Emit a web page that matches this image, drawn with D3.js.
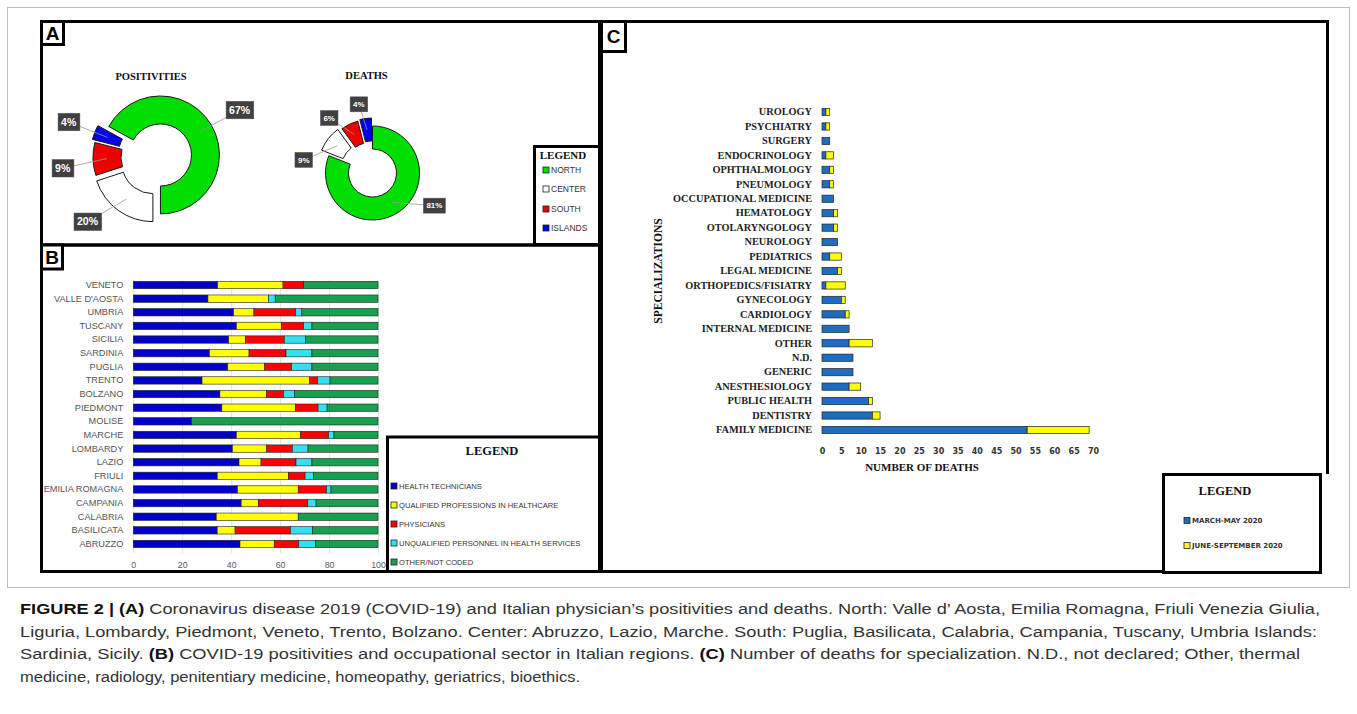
<!DOCTYPE html>
<html><head><meta charset="utf-8">
<script src="https://cdn.jsdelivr.net/npm/d3@7"></script>
<style>body{margin:0;background:#fff}svg{display:block}</style>
</head><body>
<svg id="fig" width="1357" height="714"></svg>
<script>
// ---------- DATA ----------
// Panel A
const regions = ["NORTH", "CENTER", "SOUTH", "ISLANDS"];
const positivities = [67, 20, 9, 4];
const deathsShare = [81, 9, 6, 4];

// Panel B (percent of positivities per occupational sector)
const bRegions = ["VENETO","VALLE D'AOSTA","UMBRIA","TUSCANY","SICILIA","SARDINIA","PUGLIA","TRENTO","BOLZANO","PIEDMONT","MOLISE","MARCHE","LOMBARDY","LAZIO","FRIULI","EMILIA ROMAGNA","CAMPANIA","CALABRIA","BASILICATA","ABRUZZO"];
const sectors = ["HEALTH TECHNICIANS","QUALIFIED PROFESSIONS IN HEALTHCARE","PHYSICIANS","UNQUALIFIED PERSONNEL IN HEALTH SERVICES","OTHER/NOT CODED"];
const healthTechnicians = [34.5,30.5,41.0,42.1,39.0,31.1,38.6,28.1,35.4,36.2,23.8,42.1,40.5,43.2,34.3,42.6,44.1,33.9,34.3,43.6];
const qualifiedProf    = [26.7,24.8, 8.3,18.5, 6.9,16.2,15.1,44.0,19.0,30.0, 0.0,26.3,14.0, 9.0,29.1,24.8, 7.0,33.5, 7.3,14.0];
const physiciansB      = [ 8.4, 0.0,17.0, 9.0,15.8,15.1,11.0, 3.2, 7.0, 9.3, 0.0,11.4,10.5,14.3, 6.8,11.5,20.2, 0.0,22.6,10.0];
const unqualified      = [ 0.0, 2.7, 2.6, 3.4, 8.6,10.6, 8.3, 5.1, 4.5, 3.7, 0.0, 2.2, 6.4, 6.5, 3.5, 1.9, 3.4, 0.0, 9.0, 6.8];
const otherNotCoded    = [30.4,42.0,31.1,27.0,29.7,27.0,27.0,19.6,34.1,20.8,76.2,18.0,28.6,27.0,26.3,19.2,25.3,32.6,26.8,25.6];
const bTicks = [0, 20, 40, 60, 80, 100];

// Panel C (number of deaths)
const specializations = ["UROLOGY","PSYCHIATRY","SURGERY","ENDOCRINOLOGY","OPHTHALMOLOGY","PNEUMOLOGY","OCCUPATIONAL MEDICINE","HEMATOLOGY","OTOLARYNGOLOGY","NEUROLOGY","PEDIATRICS","LEGAL MEDICINE","ORTHOPEDICS/FISIATRY","GYNECOLOGY","CARDIOLOGY","INTERNAL MEDICINE","OTHER","N.D.","GENERIC","ANESTHESIOLOGY","PUBLIC HEALTH","DENTISTRY","FAMILY MEDICINE"];
const marchMay = [1,1,2,1,2,2,3,3,3,4,2,4,1,5,6,7,7,8,8,7,12,13,53];
const juneSep  = [1,1,0,2,1,1,0,1,1,0,3,1,5,1,1,0,6,0,0,3,1,2,16];
const periods = ["MARCH-MAY 2020", "JUNE-SEPTEMBER 2020"];
const cTicks = [0,5,10,15,20,25,30,35,40,45,50,55,60,65,70];

// ---------- STYLE ----------
const regionColors = ["#00dd00", "#ffffff", "#ee0000", "#0000ee"];
const sectorColors = ["#0000c8", "#ffff00", "#ff0000", "#33e0f0", "#17a04f"];
const periodColors = ["#1f6dc2", "#ffff00"];
const serif = "'Liberation Serif', 'Times New Roman', serif";
const sans = "'Liberation Sans', Arial, sans-serif";
const sansBold = "'DejaVu Sans', Verdana, sans-serif";

const svg = d3.select("#fig");

// outer light frame
svg.append("rect").attr("x", 7.5).attr("y", 7.5).attr("width", 1342).attr("height", 580)
  .attr("fill", "none").attr("stroke", "#bdbdbd").attr("stroke-width", 1);

// ---------- PANEL A ----------
const gA = svg.append("g");
function donut(data, cx, cy, R, r, startDeg, offsets, labelR, nudges, fs, title, titleY) {
  const start = startDeg * Math.PI / 180;
  const pie = d3.pie().sort(null).startAngle(start).endAngle(start + 2 * Math.PI);
  const arcs = pie(data);
  const arc = d3.arc().innerRadius(r).outerRadius(R);
  const g = gA.append("g");
  g.append("text").attr("x", cx - 6).attr("y", titleY).attr("text-anchor", "middle")
    .attr("font-family", serif).attr("font-weight", "bold").attr("font-size", 10.5)
    .attr("fill", "#111").text(title);
  arcs.forEach((a, i) => {
    const mid = (a.startAngle + a.endAngle) / 2;
    const dx = offsets[i] * Math.sin(mid), dy = -offsets[i] * Math.cos(mid);
    g.append("path").attr("d", arc(a))
      .attr("transform", `translate(${cx + dx},${cy + dy})`)
      .attr("fill", regionColors[i]).attr("stroke", "#1a1a1a").attr("stroke-width", 1);
  });
  arcs.forEach((a, i) => {
    const mid = (a.startAngle + a.endAngle) / 2;
    const dx = offsets[i] * Math.sin(mid), dy = -offsets[i] * Math.cos(mid);
    const c = arc.centroid(a);
    const la = mid + nudges[i] * Math.PI / 180;
    const lx = cx + labelR * Math.sin(la), ly = cy - labelR * Math.cos(la);
    g.append("line").attr("x1", cx + dx + c[0]).attr("y1", cy + dy + c[1])
      .attr("x2", lx).attr("y2", ly).attr("stroke", "#9a9a9a").attr("stroke-width", 0.8);
    const t = g.append("text").attr("x", lx).attr("y", ly).attr("dy", "0.35em")
      .attr("text-anchor", "middle").attr("font-family", sans).attr("font-weight", "bold")
      .attr("font-size", fs).attr("fill", "#fff").text(data[i] + "%");
    const bb = t.node().getBBox();
    g.insert("rect", () => t.node())
      .attr("x", bb.x - 3).attr("y", ly - fs * 0.5 - 3.5).attr("width", bb.width + 6).attr("height", fs + 7)
      .attr("fill", "#404040").attr("stroke", "#555").attr("stroke-width", 0.5);
  });
}
// Positivities: North placed so that the remaining slices start at 6 o'clock
const posStart = 180 + 360 * (100 - positivities[0]) / 100;
donut(positivities, 157, 157, 59, 31, posStart, [4, 7, 5, 8], 95, [1, 11, -5, 0], 10.5, "POSITIVITIES", 80);
donut(deathsShare, 372.5, 173, 47, 24, 0, [0, 9, 7, 8], 70, [-28, -27, -13, -4], 8, "DEATHS", 79);

// ---------- PANEL B ----------
const gB = svg.append("g");
const xB = d3.scaleLinear().domain([0, 100]).range([133.3, 378]);
const yB = d3.scaleBand().domain(bRegions).range([278.2, 550.8]).paddingInner(0.46).paddingOuter(0.23);
const axB = d3.axisBottom(xB).tickValues(bTicks).tickSize(-(550 - 277)).tickPadding(9);
const axBg = gB.append("g").attr("transform", "translate(0,553)").call(axB);
axBg.select(".domain").remove();
axBg.selectAll(".tick line").attr("stroke", "#d9d9d9").attr("stroke-width", 0.8);
axBg.selectAll(".tick text").attr("font-family", sans).attr("font-size", 8.8).attr("fill", "#595959");
const ayB = d3.axisLeft(yB).tickSize(0).tickPadding(10);
const ayBg = gB.append("g").attr("transform", "translate(133.3,0)").call(ayB);
ayBg.select(".domain").remove();
ayBg.selectAll(".tick text").attr("font-family", sans).attr("font-size", 9.2).attr("fill", "#555");
const bRows = bRegions.map((name, i) => ({
  name, s0: healthTechnicians[i], s1: qualifiedProf[i], s2: physiciansB[i], s3: unqualified[i], s4: otherNotCoded[i]
}));
const stackB = d3.stack().keys(["s0", "s1", "s2", "s3", "s4"])(bRows);
stackB.forEach((layer, k) => {
  gB.append("g").selectAll("rect").data(layer.filter(d => d[1] - d[0] > 0)).join("rect")
    .attr("x", d => xB(d[0])).attr("width", d => xB(d[1]) - xB(d[0]))
    .attr("y", d => yB(d.data.name)).attr("height", yB.bandwidth())
    .attr("fill", sectorColors[k]).attr("stroke", "#222").attr("stroke-width", 0.6);
});

// ---------- PANEL C ----------
const gC = svg.append("g");
const xC = d3.scaleLinear().domain([0, 70]).range([822, 1093]);
const yC = d3.scaleBand().domain(specializations).range([104.8, 437.2]).paddingInner(0.5).paddingOuter(0.25);
const axC = d3.axisBottom(xC).tickValues(cTicks).tickSize(0).tickPadding(0);
const axCg = gC.append("g").attr("transform", "translate(0,448)").call(axC);
axCg.select(".domain").remove();
axCg.selectAll(".tick text").attr("font-family", sansBold).attr("font-weight", "bold")
  .attr("font-size", 8).attr("fill", "#333").attr("dy", "0.71em");
const ayC = d3.axisLeft(yC).tickSize(0).tickPadding(10);
const ayCg = gC.append("g").attr("transform", "translate(822,0)").call(ayC);
ayCg.select(".domain").remove();
ayCg.selectAll(".tick text").attr("font-family", serif).attr("font-weight", "bold")
  .attr("font-size", 10.3).attr("fill", "#222");
const cRows = specializations.map((name, i) => ({ name, a: marchMay[i], b: juneSep[i] }));
const stackC = d3.stack().keys(["a", "b"])(cRows);
stackC.forEach((layer, k) => {
  gC.append("g").selectAll("rect").data(layer.filter(d => d[1] - d[0] > 0)).join("rect")
    .attr("x", d => xC(d[0])).attr("width", d => xC(d[1]) - xC(d[0]))
    .attr("y", d => yC(d.data.name)).attr("height", yC.bandwidth())
    .attr("fill", periodColors[k]).attr("stroke", "#222").attr("stroke-width", 0.7);
});
gC.append("text").attr("x", 922).attr("y", 471).attr("text-anchor", "middle")
  .attr("font-family", serif).attr("font-weight", "bold").attr("font-size", 11).attr("fill", "#111")
  .text("NUMBER OF DEATHS");
gC.append("text").attr("transform", "translate(662,271) rotate(-90)").attr("text-anchor", "middle")
  .attr("font-family", serif).attr("font-weight", "bold").attr("font-size", 11.5).attr("fill", "#111")
  .text("SPECIALIZATIONS");

// ---------- FRAMES ----------
const frame = (x, y, w, h) => svg.append("rect").attr("x", x).attr("y", y).attr("width", w).attr("height", h)
  .attr("fill", "none").attr("stroke", "#000").attr("stroke-width", 3);
frame(41.5, 21.5, 558, 223.5);   // A
frame(41.5, 245, 558, 326.5);   // B
svg.append("path").attr("d", "M601.5,21.5 H1327.5 V474 M601.5,21.5 V571.5 H1163")
  .attr("fill", "none").attr("stroke", "#000").attr("stroke-width", 3);

function letterBox(x, y, w, h, L) {
  svg.append("rect").attr("x", x).attr("y", y).attr("width", w).attr("height", h)
    .attr("fill", "#fff").attr("stroke", "#000").attr("stroke-width", 3);
  svg.append("text").attr("x", x + w / 2).attr("y", y + h / 2).attr("dy", "0.36em").attr("text-anchor", "middle")
    .attr("font-family", sans).attr("font-weight", "bold").attr("font-size", 19).attr("fill", "#000").text(L);
}
letterBox(41.5, 21.5, 22, 23, "A");
letterBox(41.5, 245, 21, 24, "B");
letterBox(601.5, 21.5, 24, 30, "C");

// ---------- LEGENDS ----------
function legendBox(x, y, w, h, titleX, titleY, titleSize, items, colors, sx, ys, fs, family, weight) {
  svg.append("rect").attr("x", x).attr("y", y).attr("width", w).attr("height", h)
    .attr("fill", "#fff").attr("stroke", "#000").attr("stroke-width", 3);
  svg.append("text").attr("x", titleX).attr("y", titleY).attr("text-anchor", "middle")
    .attr("font-family", serif).attr("font-weight", "bold").attr("font-size", titleSize).attr("fill", "#111").text("LEGEND");
  items.forEach((it, i) => {
    svg.append("rect").attr("x", sx).attr("y", ys[i] - 3).attr("width", 6).attr("height", 6)
      .attr("fill", colors[i]).attr("stroke", "#222").attr("stroke-width", 0.8);
    svg.append("text").attr("x", sx + 8).attr("y", ys[i]).attr("dy", "0.35em")
      .attr("font-family", family).attr("font-weight", weight).attr("font-size", fs).attr("fill", "#333").text(it);
  });
}
legendBox(534.5, 146.5, 65, 98, 563, 159, 11, regions, regionColors, 543, [170, 189, 209, 228], 8.5, sans, "normal");
legendBox(387.5, 437, 212, 134.5, 492, 455, 12.5, sectors, sectorColors, 391, [486, 505, 524, 543, 562], 7.6, sans, "normal");
legendBox(1163.5, 474.5, 157, 98, 1225, 495, 12.5, periods, periodColors, 1184, [520.5, 545.5], 7, sansBold, "bold");

// ---------- CAPTION ----------
const caption = [
  { parts: [["FIGURE 2 | (A)", 1], [" Coronavirus disease 2019 (COVID-19) and Italian physician\u2019s positivities and deaths. North: Valle d\u2019 Aosta, Emilia Romagna, Friuli Venezia Giulia,", 0]], len: 1300 },
  { parts: [["Liguria, Lombardy, Piedmont, Veneto, Trento, Bolzano. Center: Abruzzo, Lazio, Marche. South: Puglia, Basilicata, Calabria, Campania, Tuscany, Umbria Islands:", 0]], len: 1297 },
  { parts: [["Sardinia, Sicily. ", 0], ["(B)", 1], [" COVID-19 positivities and occupational sector in Italian regions. ", 0], ["(C)", 1], [" Number of deaths for specialization. N.D., not declared; Other, thermal", 0]], len: 1280 },
  { parts: [["medicine, radiology, penitentiary medicine, homeopathy, geriatrics, bioethics.", 0]], len: 560 }
];
const baselines = [614, 636.5, 659, 681.5];
caption.forEach((ln, i) => {
  const t = svg.append("text").attr("x", 20).attr("y", baselines[i])
    .attr("font-family", sans).attr("font-size", 15.5).attr("fill", "#333")
    .attr("textLength", ln.len).attr("lengthAdjust", "spacingAndGlyphs");
  ln.parts.forEach(p => t.append("tspan").attr("font-weight", p[1] ? "bold" : "normal").attr("fill", p[1] ? "#111" : "#333").text(p[0]));
});
</script>
</body></html>
